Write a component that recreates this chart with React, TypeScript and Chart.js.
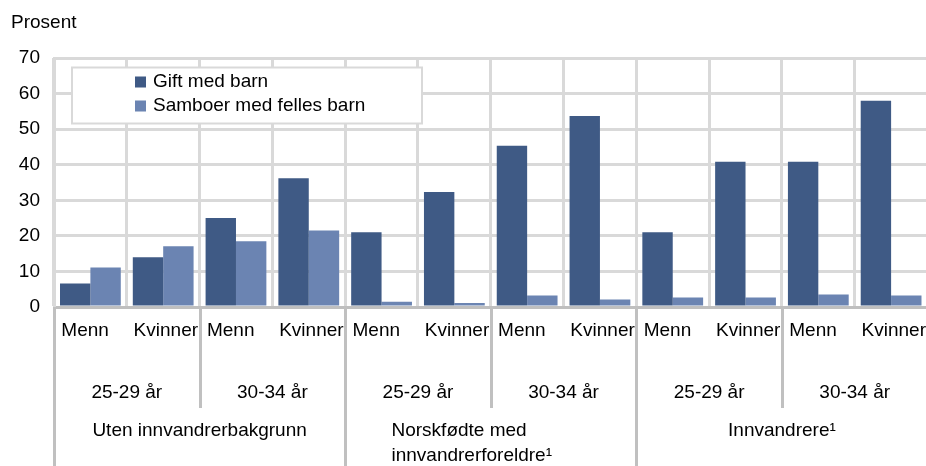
import React, { useEffect, useRef } from "react";
import { Chart, registerables } from "chart.js";

Chart.register(...registerables);

const FONT = '"Liberation Sans", Arial, Helvetica, sans-serif';
const FS = 19;

const categories = ["Menn", "Kvinner", "Menn", "Kvinner", "Menn", "Kvinner", "Menn", "Kvinner", "Menn", "Kvinner", "Menn", "Kvinner"];
const ageGroups = ["25-29 år", "30-34 år", "25-29 år", "30-34 år", "25-29 år", "30-34 år"];
const groups: (string | string[])[] = ["Uten innvandrerbakgrunn", ["Norskfødte med", "innvandrerforeldre¹"], "Innvandrere¹"];
const seriesNames = ["Gift med barn", "Samboer med felles barn"];
const giftMedBarn = [6.6, 14.0, 25.0, 36.2, 21.0, 32.3, 45.3, 53.7, 21.0, 40.8, 40.8, 58.0];
const samboerMedFellesBarn = [11.1, 17.1, 18.5, 21.5, 1.5, 1.1, 3.2, 2.1, 2.7, 2.7, 3.5, 3.2];
const yTitle = "Prosent";
const yMin = 0;
const yMax = 70;
const yStep = 10;

const colors = ["#3F5A85", "#6B84B2"];

const decorPlugin = {
  id: "decor",
  afterDraw(chart: any) {
    const ctx = chart.ctx;
    const xs = chart.scales.x;
    const area = chart.chartArea;
    const n = categories.length;
    const w = (xs.right - xs.left) / n;
    ctx.save();
    // separators below axis
    ctx.strokeStyle = "#C0C0C0";
    ctx.lineWidth = 3;
    for (let k = 0; k <= n; k += 2) {
      const x = Math.round(xs.left + k * w) + 0.5;
      const y2 = k % 4 === 0 ? chart.height : 408;
      ctx.beginPath();
      ctx.moveTo(x, area.bottom);
      ctx.lineTo(x, y2);
      ctx.stroke();
    }
    ctx.fillStyle = "#000";
    ctx.font = `${FS}px ${FONT}`;
    ctx.textBaseline = "middle";
    ctx.textAlign = "center";
    ageGroups.forEach((t, i) => {
      ctx.fillText(t, xs.left + (2 * i + 1) * w, 393);
    });
    groups.forEach((g, i) => {
      const cx = xs.left + (4 * i + 2) * w;
      if (Array.isArray(g)) {
        const maxW = Math.max(...g.map((s) => ctx.measureText(s).width));
        const left = cx - maxW / 2 - 19;
        ctx.textAlign = "left";
        g.forEach((s, j) => ctx.fillText(s, left, 431 + j * 25));
        ctx.textAlign = "center";
      } else {
        ctx.fillText(g, cx, 431);
      }
    });
    // title
    ctx.textAlign = "left";
    ctx.fillText(yTitle, 11, 23);

    // legend
    const lx = 72, ly = 67.5, lw = 350, lh = 56;
    ctx.fillStyle = "#FFFFFF";
    ctx.fillRect(lx, ly, lw, lh);
    ctx.strokeStyle = "#D9D9D9";
    ctx.lineWidth = 2;
    ctx.strokeRect(lx, ly, lw, lh);
    chart.data.datasets.forEach((ds: any, i: number) => {
      const cy = 82 + i * 24;
      ctx.fillStyle = ds.backgroundColor;
      ctx.fillRect(135, cy - 5.5, 11, 11);
      ctx.fillStyle = "#000";
      ctx.fillText(ds.label, 153, cy);
    });
    ctx.restore();
  },
};

export default function App() {
  const ref = useRef<HTMLCanvasElement>(null);
  useEffect(() => {
    if (!ref.current) return;
    const chart = new Chart(ref.current, {
      type: "bar",
      data: {
        labels: categories,
        datasets: [
          { label: seriesNames[0], data: giftMedBarn, backgroundColor: colors[0], categoryPercentage: 0.835, barPercentage: 1 },
          { label: seriesNames[1], data: samboerMedFellesBarn, backgroundColor: colors[1], categoryPercentage: 0.835, barPercentage: 1 },
        ],
      },
      options: {
        responsive: false,
        animation: false,
        layout: { padding: { top: 58, right: 1, left: 0, bottom: 0 } },
        plugins: { legend: { display: false }, tooltip: { enabled: false }, title: { display: false } },
        scales: {
          x: {
            grid: { offset: true, color: "#D9D9D9", lineWidth: 3, drawTicks: false },
            border: { color: "#BFBFBF", width: 3 },
            ticks: {
              color: "#000",
              font: { family: FONT, size: FS },
              padding: 12,
              maxRotation: 0,
              autoSkip: false,
              callback(_v: any, i: number) {
                const s = categories[i];
                return i % 2 === 0 ? s + "  " : " " + s;
              },
            },
            afterFit(scale: any) {
              scale.height = 159;
            },
          },
          y: {
            min: yMin,
            max: yMax,
            ticks: { stepSize: yStep, color: "#000", font: { family: FONT, size: FS }, padding: 14 },
            grid: { color: "#D9D9D9", lineWidth: 3, drawTicks: false },
            border: { color: "#D9D9D9", width: 3 },
            afterFit(scale: any) {
              scale.width = 54;
            },
          },
        },
      },
      plugins: [decorPlugin],
    });
    return () => chart.destroy();
  }, []);
  return (
    <div style={{ position: "fixed", left: 0, top: 0, width: 926, height: 466, overflow: "hidden", background: "#fff" }}>
      <canvas ref={ref} width={938} height={466} style={{ display: "block" }} />
    </div>
  );
}
